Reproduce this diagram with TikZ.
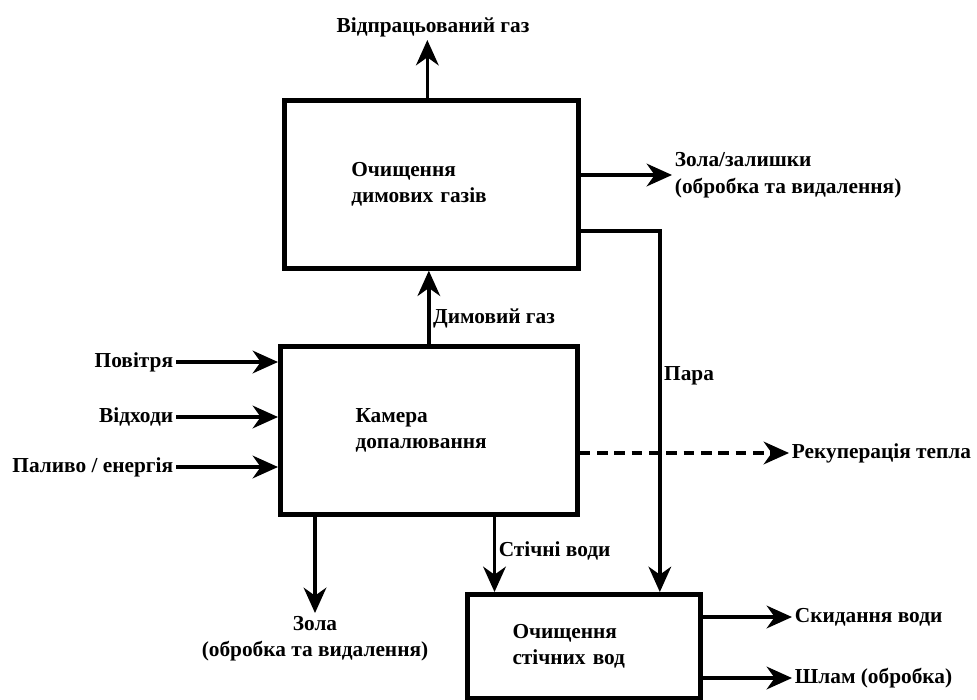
\documentclass[tikz,border=0pt]{standalone}
\usepackage{fontspec}
\setmainfont{Liberation Serif}
\usetikzlibrary{positioning}
\usetikzlibrary{arrows.meta}
\tikzset{
  procbox/.style={draw, line width=3.5pt, shape=rectangle, align=left, inner sep=0pt,
    font=\bfseries\fontsize{16}{20}\selectfont},
  flowlbl/.style={inner sep=2pt, align=center, font=\bfseries\fontsize{16}{20}\selectfont},
  flowarr/.style={line width=2.5pt, -{Stealth[length=19pt,width=17pt,inset=6pt]}},
  heatarr/.style={flowarr, dash pattern=on 8pt off 5pt}
}

\begin{document}
\begin{tikzpicture}[x=0.75pt,y=-0.75pt]
\useasboundingbox (0,0) rectangle (977,699);

% process blocks
\node[procbox, anchor=north west, minimum width=220.5pt, minimum height=126pt, text width=120pt]
(fgc) at (282,98) {Очищення\\димових газів};
\node[procbox, anchor=north west, minimum width=222.75pt, minimum height=126pt, text width=110pt]
(comb) at (278,344) {Камера\\допалювання};
\node[procbox, anchor=north west, minimum width=174.75pt, minimum height=78pt, text width=107pt]
(wwt) at (465,592) {Очищення\\стічних вод};

% outer labels
\node[flowlbl, anchor=south] (exh) at (433,40) {Відпрацьований газ};
\node[flowlbl, anchor=west, align=left] (resid) at (672,175) {Зола/залишки\\(обробка та видалення)};
\node[flowlbl, anchor=east] (air) at (176,362) {Повітря};
\node[flowlbl, anchor=east] (waste) at (176,417) {Відходи};
\node[flowlbl, anchor=east] (fuel) at (176,467) {Паливо / енергія};
\node[flowlbl, anchor=west] (heat) at (789,453) {Рекуперація тепла};
\node[flowlbl, anchor=north] (ash) at (315,613) {Зола\\(обробка та видалення)};
\node[flowlbl, anchor=west] (disch) at (792,617) {Скидання води};
\node[flowlbl, anchor=west] (sludge) at (792,678) {Шлам (обробка)};

% flows
\draw[flowarr] ([xshift=-3pt]fgc.north) -- ([xshift=-3pt]fgc.north |- exh.south);
\draw[flowarr] (comb.north) -- (comb.north |- fgc.south)
  node[flowlbl, pos=0.35, right] {Димовий газ};
\draw[flowarr] (fgc.east |- resid.west) -- (resid.west);
\draw[flowarr] ([yshift=-35pt]fgc.east) -| ([xshift=57pt]wwt.north)
  node[flowlbl, pos=0.7, right] {Пара};
\draw[flowarr] (air.east) -- (air.east -| comb.west);
\draw[flowarr] (waste.east) -- (waste.east -| comb.west);
\draw[flowarr] (fuel.east) -- (fuel.east -| comb.west);
\draw[heatarr] (comb.east |- heat.west) -- (heat.west);
\draw[flowarr] (ash.north |- comb.south) -- (ash.north);
\draw[flowarr] ([xshift=-67pt]wwt.north |- comb.south) -- ([xshift=-67pt]wwt.north)
  node[flowlbl, pos=0.45, right] {Стічні води};
\draw[flowarr] (wwt.east |- disch.west) -- (disch.west);
\draw[flowarr] (wwt.east |- sludge.west) -- (sludge.west);

\end{tikzpicture}
\end{document}
